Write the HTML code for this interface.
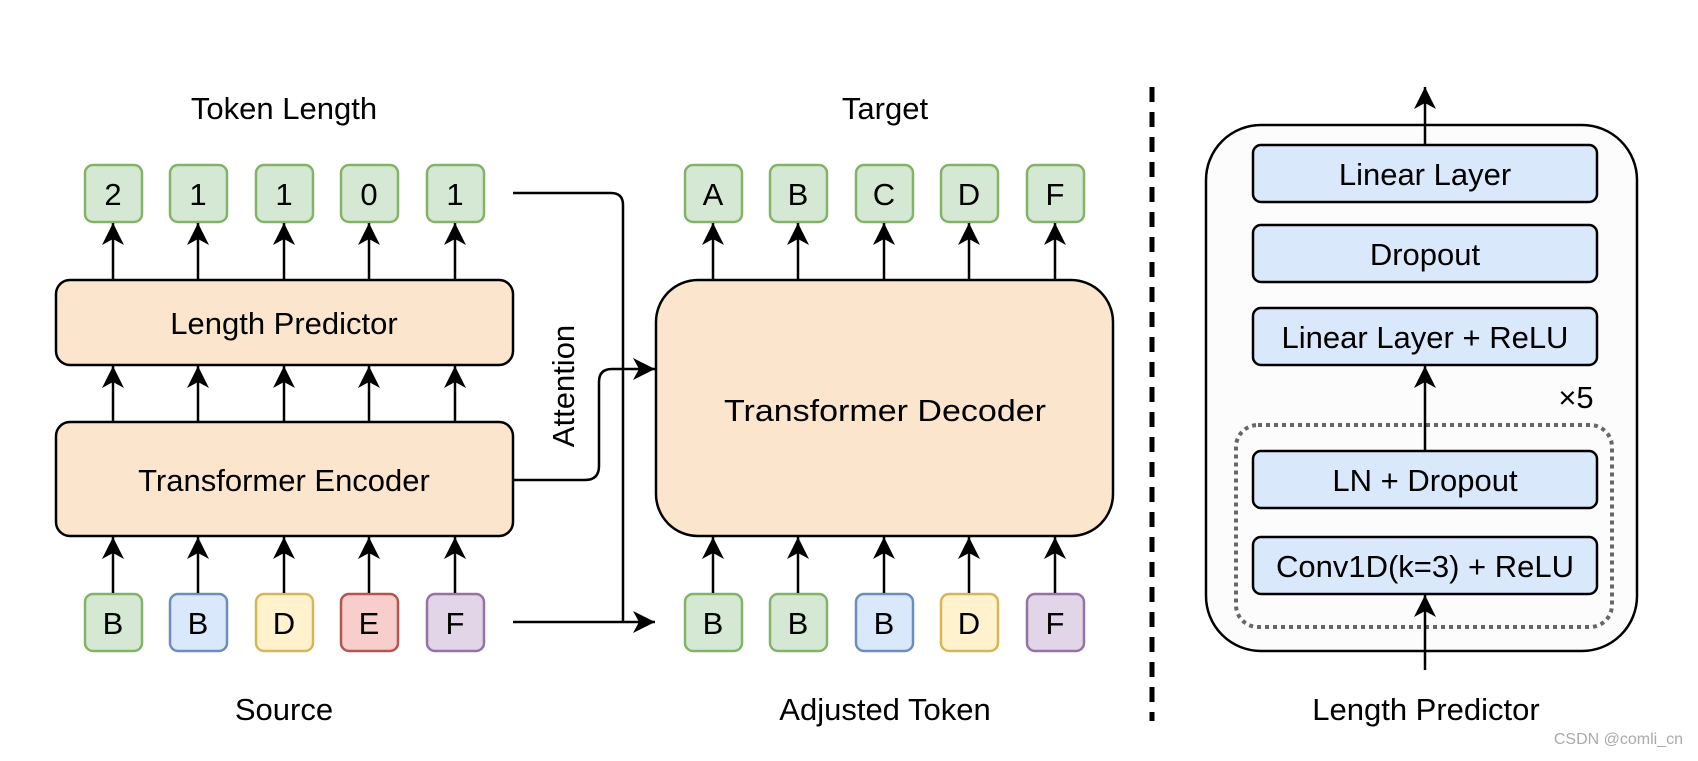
<!DOCTYPE html>
<html><head><meta charset="utf-8"><style>
html,body{margin:0;padding:0;background:#fff;}
svg text{font-family:"Liberation Sans",Arial,sans-serif;fill:#000;}
</style></head><body>
<svg width="1698" height="756" viewBox="0 0 1698 756" xmlns="http://www.w3.org/2000/svg">
<defs>
<marker id="a" markerWidth="24" markerHeight="24" refX="22" refY="12" orient="auto" markerUnits="userSpaceOnUse">
<path d="M0,1 L22,12 L0,23 L6,12 Z" fill="#000"/>
</marker>
</defs>
<g font-size="31" text-anchor="middle">
<text x="284" y="119">Token Length</text>
<text x="885" y="119">Target</text>
<text x="284" y="720">Source</text>
<text x="885" y="720">Adjusted Token</text>
<text x="1426" y="720">Length Predictor</text>
</g>
<g stroke-width="2.5" font-size="31" text-anchor="middle">
<g stroke="#82b366" fill="#d5e8d4">
<rect x="85" y="165" width="57" height="57" rx="8"/><rect x="170" y="165" width="57" height="57" rx="8"/><rect x="256" y="165" width="57" height="57" rx="8"/><rect x="341" y="165" width="57" height="57" rx="8"/><rect x="427" y="165" width="57" height="57" rx="8"/>
<rect x="685" y="165" width="57" height="57" rx="8"/><rect x="770" y="165" width="57" height="57" rx="8"/><rect x="856" y="165" width="57" height="57" rx="8"/><rect x="941" y="165" width="57" height="57" rx="8"/><rect x="1027" y="165" width="57" height="57" rx="8"/>
<rect x="85" y="594" width="57" height="57" rx="8"/><rect x="685" y="594" width="57" height="57" rx="8"/><rect x="770" y="594" width="57" height="57" rx="8"/>
</g>
<rect x="170" y="594" width="57" height="57" rx="8" stroke="#6c8ebf" fill="#dae8fc"/>
<rect x="856" y="594" width="57" height="57" rx="8" stroke="#6c8ebf" fill="#dae8fc"/>
<rect x="256" y="594" width="57" height="57" rx="8" stroke="#d6b656" fill="#fff2cc"/>
<rect x="941" y="594" width="57" height="57" rx="8" stroke="#d6b656" fill="#fff2cc"/>
<rect x="341" y="594" width="57" height="57" rx="8" stroke="#b85450" fill="#f8cecc"/>
<rect x="427" y="594" width="57" height="57" rx="8" stroke="#9673a6" fill="#e1d5e7"/>
<rect x="1027" y="594" width="57" height="57" rx="8" stroke="#9673a6" fill="#e1d5e7"/>
<g stroke="none">
<text x="113" y="205">2</text><text x="198" y="205">1</text><text x="284" y="205">1</text><text x="369" y="205">0</text><text x="455" y="205">1</text>
<text x="713" y="205">A</text><text x="798" y="205">B</text><text x="884" y="205">C</text><text x="969" y="205">D</text><text x="1055" y="205">F</text>
<text x="113" y="634">B</text><text x="198" y="634">B</text><text x="284" y="634">D</text><text x="369" y="634">E</text><text x="455" y="634">F</text>
<text x="713" y="634">B</text><text x="798" y="634">B</text><text x="884" y="634">B</text><text x="969" y="634">D</text><text x="1055" y="634">F</text>
</g>
</g>
<g stroke="#000" stroke-width="2.5" fill="#fbe5cd">
<rect x="56" y="280" width="457" height="85" rx="14"/>
<rect x="56" y="422" width="457" height="114" rx="14"/>
<rect x="656" y="280" width="457" height="256" rx="42"/>
</g>
<g font-size="31" text-anchor="middle">
<text x="284" y="334">Length Predictor</text>
<text x="284" y="491">Transformer Encoder</text>
<text x="885" y="421" textLength="322" lengthAdjust="spacingAndGlyphs">Transformer Decoder</text>
<text transform="translate(574,386) rotate(-90)">Attention</text>
</g>
<g stroke="#000" stroke-width="2.5" marker-end="url(#a)">
<path d="M113 279V223"/><path d="M198 279V223"/><path d="M284 279V223"/><path d="M369 279V223"/><path d="M455 279V223"/>
<path d="M713 279V223"/><path d="M798 279V223"/><path d="M884 279V223"/><path d="M969 279V223"/><path d="M1055 279V223"/>
<path d="M113 421V366"/><path d="M198 421V366"/><path d="M284 421V366"/><path d="M369 421V366"/><path d="M455 421V366"/>
<path d="M113 593V537"/><path d="M198 593V537"/><path d="M284 593V537"/><path d="M369 593V537"/><path d="M455 593V537"/>
<path d="M713 593V537"/><path d="M798 593V537"/><path d="M884 593V537"/><path d="M969 593V537"/><path d="M1055 593V537"/>
</g>
<g stroke="#000" stroke-width="2.5" fill="none">
<path d="M513 193H611Q623 193 623 205V622"/>
<path d="M513 622H655" marker-end="url(#a)"/>
<path d="M513 480H585Q599 480 599 466V382Q599 369 612 369H655" marker-end="url(#a)"/>
</g>
<line x1="1152" y1="87" x2="1152" y2="721" stroke="#000" stroke-width="5" stroke-dasharray="15,10"/>
<rect x="1206" y="125" width="431" height="526" rx="55" fill="#fcfcfc" stroke="#000" stroke-width="2.5"/>
<rect x="1236" y="425" width="376" height="202" rx="22" fill="none" stroke="#666" stroke-width="4" stroke-dasharray="4,4"/>
<g stroke="#000" stroke-width="2.5" fill="#dae8fc">
<rect x="1253" y="145" width="344" height="57" rx="8"/>
<rect x="1253" y="225" width="344" height="57" rx="8"/>
<rect x="1253" y="308" width="344" height="57" rx="8"/>
<rect x="1253" y="451" width="344" height="57" rx="8"/>
<rect x="1253" y="537" width="344" height="57" rx="8"/>
</g>
<g font-size="31" text-anchor="middle">
<text x="1425" y="185">Linear Layer</text>
<text x="1425" y="265">Dropout</text>
<text x="1425" y="348">Linear Layer + ReLU</text>
<text x="1425" y="491">LN + Dropout</text>
<text x="1425" y="577">Conv1D(k=3) + ReLU</text>
<text x="1576" y="408">×5</text>
</g>
<g stroke="#000" stroke-width="2.5" marker-end="url(#a)">
<path d="M1425 145V87"/>
<path d="M1425 451V366"/>
<path d="M1425 670V595"/>
</g>
<text x="1683" y="744" font-size="16" style="fill:#aaa" text-anchor="end">CSDN @comli_cn</text>
</svg>
</body></html>
